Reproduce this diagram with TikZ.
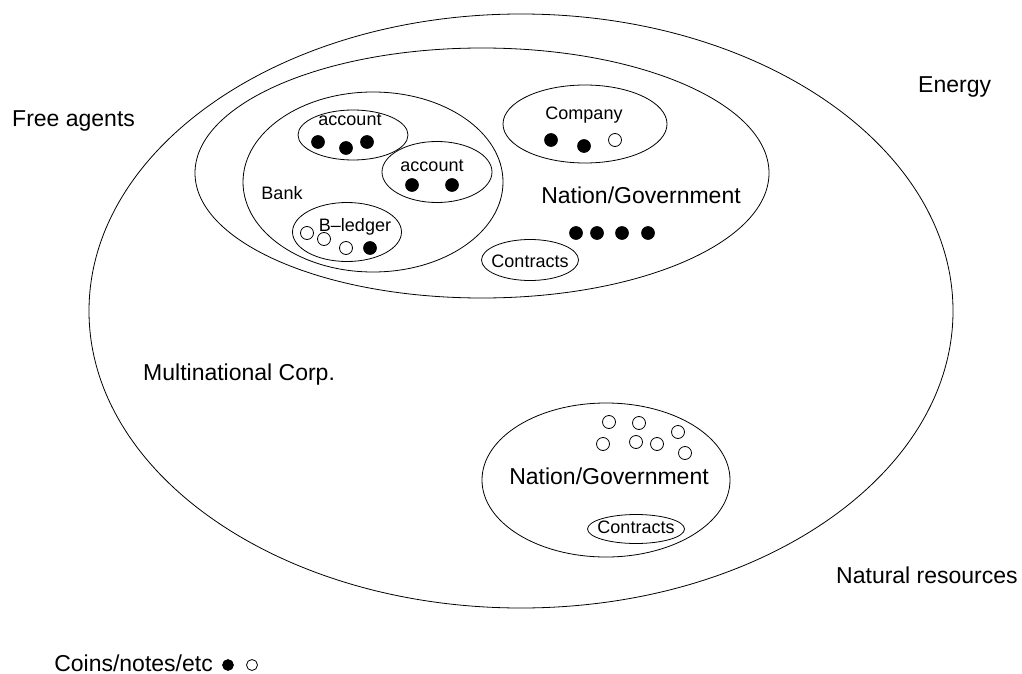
\documentclass[tikz,border=0pt]{standalone}
\usepackage{fontspec}
\setmainfont{Liberation Sans}
\usetikzlibrary{shapes.geometric}
\tikzset{
  region/.style={draw, ellipse, line width=0.8pt, inner sep=0pt},
  biglabel/.style={font=\fontsize{23}{27}\selectfont, inner sep=0pt},
  smalllabel/.style={font=\fontsize{18}{21}\selectfont, inner sep=0pt},
  coin/.style={circle, fill=black, draw=black, line width=0.6pt, minimum size=13pt, inner sep=0pt},
  token/.style={circle, fill=white, draw=black, line width=0.8pt, minimum size=13pt, inner sep=0pt},
  smallcoin/.style={coin, minimum size=11pt},
  smalltoken/.style={token, minimum size=11pt}
}
\begin{document}
\begin{tikzpicture}[x=1pt, y=-1pt]
\useasboundingbox (0,0) rectangle (1022,674);

% nested regions
\node[region, minimum width=864pt, minimum height=594pt] (corp) at (521,311) {};
\node[region, minimum width=574pt, minimum height=250pt] (nationA) at (482,173) {};
\node[region, minimum width=260pt, minimum height=180pt] (bank) at (373,182) {};
\node[region, minimum width=110pt, minimum height=50pt] (acctA) at (353,135) {};
\node[region, minimum width=110pt, minimum height=61pt] (acctB) at (437,172) {};
\node[region, minimum width=109pt, minimum height=59pt] (ledger) at (347,232) {};
\node[region, minimum width=164pt, minimum height=78pt] (company) at (585,124) {};
\node[region, minimum width=97pt, minimum height=41pt] (contractsA) at (530,260) {};
\node[region, minimum width=248pt, minimum height=154pt] (nationB) at (606,480) {};
\node[region, minimum width=97pt, minimum height=29pt] (contractsB) at (636,529) {};

% outside labels
\node[biglabel, anchor=base west] (free) at (12,127) {Free agents};
\node[biglabel, anchor=base west] (energy) at (918,93) {Energy};
\node[biglabel, anchor=base west] (multi) at (143,380) {Multinational Corp.};
\node[biglabel, anchor=base west] (natural) at (836,583) {Natural resources};
\node[biglabel, anchor=base east] (legend) at (213,671) {Coins/notes/etc};

% region labels
\node[biglabel, anchor=base] (nationAlbl) at (641,203) {Nation/Government};
\node[biglabel, anchor=base] (nationBlbl) at (609,484) {Nation/Government};
\node[smalllabel, anchor=base] (acctAlbl) at (350,126) {account};
\node[smalllabel, anchor=base] (acctBlbl) at (432,171) {account};
\node[smalllabel, anchor=base] (banklbl) at (282,199) {Bank};
\node[smalllabel, anchor=base] (ledgerlbl) at (355,231) {B–ledger};
\node[smalllabel, anchor=base] (companylbl) at (584,120) {Company};
\node[smalllabel, anchor=base] (contractsAlbl) at (530,267) {Contracts};
\node[smalllabel, anchor=base] (contractsBlbl) at (636,533) {Contracts};

% coins in the first account
\node[coin] (a1) at (318,142) {};
\node[coin] (a2) at (346,148) {};
\node[coin] (a3) at (367,142) {};
% coins in the second account
\node[coin] (b1) at (412,185) {};
\node[coin] (b2) at (452,185) {};
% ledger
\node[token] (l1) at (307,233) {};
\node[token] (l2) at (324,239) {};
\node[token] (l3) at (346,248) {};
\node[coin] (l4) at (370,248) {};
% company
\node[coin] (c1) at (551,140) {};
\node[coin] (c2) at (584,146) {};
\node[token] (c3) at (615,140) {};
% upper nation
\node[coin] (n1) at (576,233) {};
\node[coin] (n2) at (597,233) {};
\node[coin] (n3) at (622,233) {};
\node[coin] (n4) at (648,233) {};
% lower nation
\node[token] (m1) at (609,422) {};
\node[token] (m2) at (639,423) {};
\node[token] (m3) at (678,432) {};
\node[token] (m4) at (603,444) {};
\node[token] (m5) at (636,442) {};
\node[token] (m6) at (657,444) {};
\node[token] (m7) at (685,453) {};
% legend
\node[smallcoin] (k1) at (228,665) {};
\node[smalltoken] (k2) at (252,665) {};
\end{tikzpicture}
\end{document}
